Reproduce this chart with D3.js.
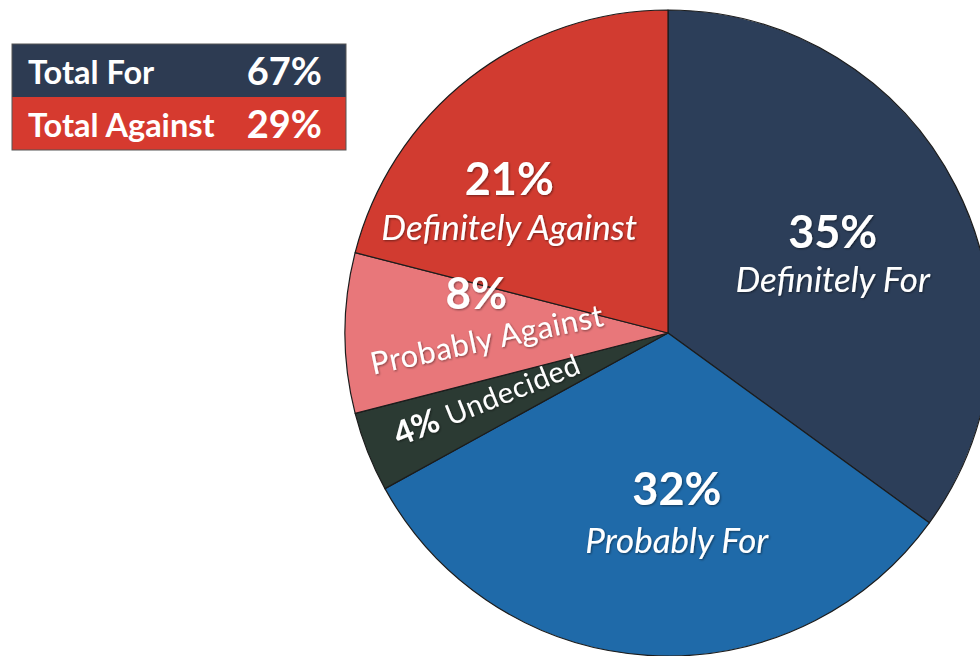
<!DOCTYPE html>
<html>
<head>
<meta charset="utf-8">
<script src="https://cdn.jsdelivr.net/npm/d3@7/dist/d3.min.js"></script>
<style>
  html, body { margin: 0; padding: 0; background: #fff; }
  svg { display: block; }
  text { font-family: Lato, "Open Sans", sans-serif; fill: #fff; }
</style>
</head>
<body>
<svg id="chart" width="980" height="656"></svg>
<script>
// Poll results, clockwise from 12 o'clock
const categories = ["Definitely For", "Probably For", "Undecided", "Probably Against", "Definitely Against"];
const values = [35, 32, 4, 8, 21];
const sliceColors = ["#2c3e59", "#1f6aa9", "#2b3a33", "#e8777a", "#d13b30"];

// Summary box rows
const summaryLabels = ["Total For", "Total Against"];
const summaryGroups = [["Definitely For", "Probably For"], ["Definitely Against", "Probably Against"]];
const summaryColors = ["#2d3b52", "#d63a2f"];

const svg = d3.select("#chart");
const cx = 668, cy = 333, R = 323;

const data = categories.map((c, i) => ({ category: c, value: values[i], color: sliceColors[i] }));

const pie = d3.pie().value(d => d.value).sort(null).startAngle(0).endAngle(2 * Math.PI);
const arcs = pie(data);
const arc = d3.arc().innerRadius(0).outerRadius(R);
const labelArc = d3.arc().innerRadius(R * 0.6).outerRadius(R * 0.6);

const defs = svg.append("defs");
const shadow = defs.append("filter").attr("id", "txtshadow")
  .attr("x", "-10%").attr("y", "-30%").attr("width", "120%").attr("height", "160%");
shadow.append("feDropShadow").attr("dx", 1).attr("dy", 1).attr("stdDeviation", 1)
  .attr("flood-color", "#000").attr("flood-opacity", 0.45);

const g = svg.append("g").attr("transform", `translate(${cx},${cy})`);

g.selectAll("path.slice").data(arcs).join("path")
  .attr("class", "slice")
  .attr("d", arc)
  .attr("fill", d => d.data.color)
  .attr("stroke", "#1c1c1c")
  .attr("stroke-width", 1.2)
  .attr("stroke-linejoin", "round");

// Offsets from each slice's label centroid
const labelLayout = {
  "Definitely For":     { dx: -8,  dy: 3,   gap: 44 },
  "Probably For":       { dx: 21,  dy: -21, gap: 48 },
  "Definitely Against": { dx: -40, dy: 15,  gap: 45 },
  "Probably Against":   { dx: 0,   dy: -24 },
  "Undecided":          { dx: 1,   dy: 0,   rot: -22 }
};

arcs.forEach(d => {
  const L = labelLayout[d.data.category];
  const [px, py] = labelArc.centroid(d);
  const x = px + L.dx, y = py + L.dy;
  const lg = g.append("g").attr("filter", "url(#txtshadow)");
  if (d.data.category === "Undecided") {
    const t = lg.append("text")
      .attr("transform", `translate(${x},${y}) rotate(${L.rot})`)
      .attr("text-anchor", "middle").attr("dy", "0.35em");
    t.append("tspan").attr("font-weight", 700).attr("font-size", 33).text(d.data.value + "%");
    t.append("tspan").attr("font-size", 29).attr("dx", 9).attr("letter-spacing", 0.6).text(d.data.category);
  } else if (d.data.category === "Probably Against") {
    lg.append("text")
      .attr("x", x + 2).attr("y", y)
      .attr("text-anchor", "middle").attr("font-weight", 700).attr("font-size", 44)
      .text(d.data.value + "%");
    lg.append("text")
      .attr("transform", `translate(${x + 15},${y + 41}) rotate(-12)`)
      .attr("text-anchor", "middle").attr("font-size", 31).attr("letter-spacing", 0.6)
      .text(d.data.category);
  } else {
    lg.append("text")
      .attr("x", x).attr("y", y)
      .attr("text-anchor", "middle").attr("font-weight", 700).attr("font-size", 45)
      .text(d.data.value + "%");
    lg.append("text")
      .attr("x", x).attr("y", y + L.gap)
      .attr("text-anchor", "middle").attr("font-style", "italic").attr("font-size", 35)
      .text(d.data.category);
  }
});

// Summary box
const totals = summaryGroups.map(grp => d3.sum(data.filter(d => grp.includes(d.category)), d => d.value));
const box = svg.append("g").attr("transform", "translate(12,44)");
const rowH = 53, boxW = 334;
const rows = box.selectAll("g.row").data(summaryLabels).join("g")
  .attr("class", "row")
  .attr("transform", (d, i) => `translate(0,${i * rowH})`);
rows.append("rect").attr("width", boxW).attr("height", rowH)
  .attr("fill", (d, i) => summaryColors[i]);
rows.append("text").attr("x", 16).attr("y", 40)
  .attr("font-weight", 700).attr("font-size", 32.5)
  .text(d => d);
rows.append("text").attr("x", 310).attr("y", 41)
  .attr("text-anchor", "end").attr("font-weight", 700).attr("font-size", 38)
  .text((d, i) => totals[i] + "%");
box.append("rect").attr("width", boxW).attr("height", rowH * 2)
  .attr("fill", "none").attr("stroke", "#555").attr("stroke-width", 1);
</script>
</body>
</html>
